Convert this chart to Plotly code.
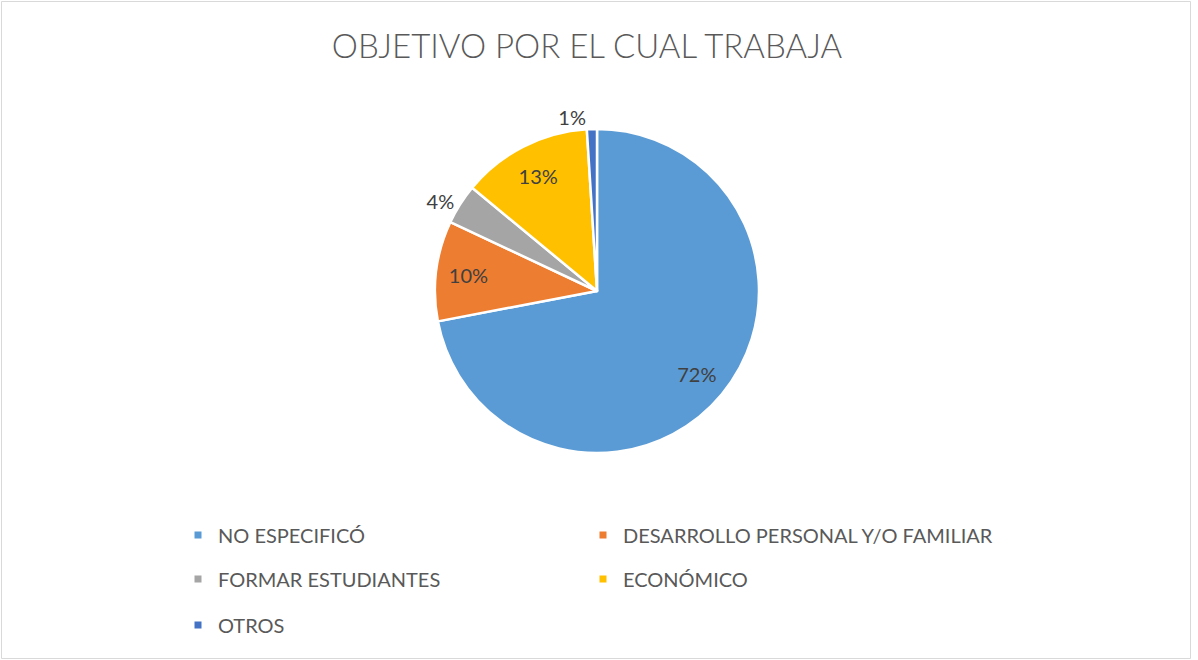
import plotly.graph_objects as go

labels = ["NO ESPECIFICÓ", "DESARROLLO PERSONAL Y/O FAMILIAR", "FORMAR ESTUDIANTES", "ECONÓMICO", "OTROS"]
values = [72, 10, 4, 13, 1]
colors = ["#5B9BD5", "#ED7D31", "#A5A5A5", "#FFC000", "#4472C4"]
text_positions = ["inside", "inside", "outside", "inside", "outside"]
title_text = "OBJETIVO POR EL CUAL TRABAJA"

W, H = 1198, 660
FONT = "Lato, 'Open Sans', sans-serif"
pie_domain = dict(x=[435 / W, 759 / W], y=[1 - 453 / H, 1 - 129 / H])

fig = go.Figure()
# slices
fig.add_trace(go.Pie(
    labels=labels, values=values, sort=False, direction="clockwise", rotation=0,
    marker=dict(colors=colors, line=dict(color="white", width=2.5)),
    textinfo="none", domain=pie_domain, showlegend=False, hoverinfo="label+percent",
))
# data labels (ring overlay so inside labels sit toward the rim, as in the original)
fig.add_trace(go.Pie(
    labels=labels, values=values, sort=False, direction="clockwise", rotation=0, hole=0.6,
    marker=dict(colors=["rgba(0,0,0,0)"] * len(values), line=dict(width=0)),
    texttemplate="%{percent:.0%}", textposition=text_positions,
    insidetextorientation="horizontal",
    textfont=dict(size=20, color="#404040", family=FONT),
    outsidetextfont=dict(size=20, color="#404040", family=FONT),
    domain=pie_domain, showlegend=False, hoverinfo="skip",
))

# legend entries: two columns, three rows (one legend box per entry)
legend_cols = [0, 1, 0, 1, 0]
legend_rows = [0, 0, 1, 1, 2]
col_x = [178, 583]
row_y = [535, 579, 625]
legend_layout = {}
for i, name in enumerate(labels):
    key = "legend" if i == 0 else f"legend{i + 1}"
    fig.add_trace(go.Scatter(
        x=[None], y=[None], mode="markers", name=name,
        marker=dict(symbol="square", size=7, color=colors[i]),
        legend=key, showlegend=True, hoverinfo="skip",
    ))
    legend_layout[key] = dict(
        orientation="h", x=col_x[legend_cols[i]] / W, xanchor="left",
        y=1 - row_y[legend_rows[i]] / H, yanchor="middle",
        bgcolor="rgba(0,0,0,0)",
        font=dict(size=20, color="#595959", family=FONT),
        itemclick=False, itemdoubleclick=False,
    )

fig.update_layout(
    width=W, height=H,
    margin=dict(l=0, r=0, t=0, b=0),
    paper_bgcolor="white", plot_bgcolor="white",
    title=dict(text=title_text, x=587 / W, xanchor="center", y=1 - 46 / H, yanchor="middle",
               font=dict(size=33, color="#595959", family=FONT, weight=300)),
    xaxis=dict(visible=False), yaxis=dict(visible=False),
    shapes=[dict(type="rect", xref="paper", yref="paper",
                 x0=1.5 / W, x1=1190.5 / W, y0=1 - 658.5 / H, y1=1 - 1.5 / H,
                 line=dict(color="#D9D9D9", width=1), fillcolor="rgba(0,0,0,0)")],
    **legend_layout,
)

fig.write_html("out.html", config={"displayModeBar": False},
               post_script="document.body.style.margin='0';")
